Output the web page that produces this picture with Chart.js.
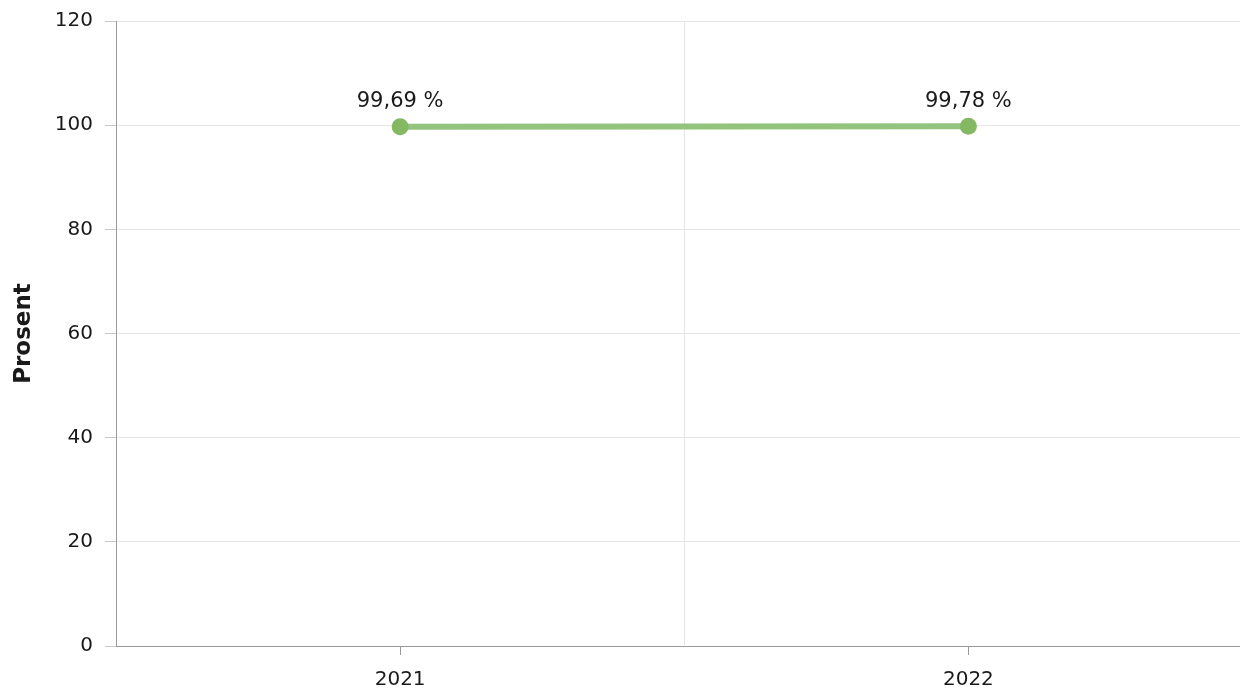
<!DOCTYPE html>
<html>
<head>
<meta charset="utf-8">
<script src="https://cdn.jsdelivr.net/npm/chart.js@4/dist/chart.umd.min.js"></script>
<style>
  html, body { margin: 0; padding: 0; background: #fff; }
  #wrap { width: 1240px; height: 693px; overflow: hidden; position: relative; }
  canvas { display: block; position: absolute; left: 0; top: -3px; }
</style>
</head>
<body>
<div id="wrap"><canvas id="chart" width="1261" height="696" style="width:1261px;height:696px"></canvas></div>
<script>
const years = ['2021', '2022'];
const shares = [99.69, 99.78];
const yTicks = [0, 20, 40, 60, 80, 100, 120];

const FONT = 'DejaVu Sans';
const TEXT = '#1a1a1a';
const AXIS = '#999';
const GRID = '#e6e6e6';

const fmt = v => v.toFixed(2).replace('.', ',') + ' %';

// tick marks under the category labels (not at the grid lines)
const xTickMarks = {
    id: 'xTickMarks',
    afterDraw(chart) {
        const x = chart.scales.x;
        const ctx = chart.ctx;
        ctx.save();
        ctx.strokeStyle = AXIS;
        ctx.lineWidth = 1;
        x.ticks.forEach((t, i) => {
            const px = Math.round(x.getPixelForTick(i)) + 0.5;
            ctx.beginPath();
            ctx.moveTo(px, x.top);
            ctx.lineTo(px, x.top + 9);
            ctx.stroke();
        });
        ctx.restore();
    }
};

// value labels above points
const valueLabels = {
    id: 'valueLabels',
    afterDatasetsDraw(chart) {
        const ctx = chart.ctx;
        const meta = chart.getDatasetMeta(0);
        ctx.save();
        ctx.font = `21px "${FONT}"`;
        ctx.fillStyle = TEXT;
        ctx.textAlign = 'center';
        ctx.textBaseline = 'middle';
        meta.data.forEach((pt, i) => {
            ctx.fillText(fmt(shares[i]), pt.x, pt.y - 25);
        });
        ctx.restore();
    }
};

new Chart(document.getElementById('chart').getContext('2d'), {
    type: 'line',
    data: {
        labels: years,
        datasets: [{
            data: shares,
            borderColor: '#93c47d',
            borderWidth: 6,
            backgroundColor: '#84b862',
            pointBackgroundColor: '#84b862',
            pointBorderWidth: 0,
            pointRadius: 8.5,
            tension: 0
        }]
    },
    options: {
        responsive: false,
        animation: false,
        layout: { padding: { top: 18, right: 0, bottom: 0, left: 0 } },
        plugins: {
            legend: { display: false },
            tooltip: { enabled: false }
        },
        scales: {
            x: {
                type: 'category',
                offset: true,
                grid: { color: GRID, drawTicks: false, offset: true },
                border: { color: AXIS, width: 1 },
                ticks: {
                    color: TEXT,
                    padding: 22,
                    font: { family: FONT, size: 20 }
                },
                afterFit(scale) { scale.height = 47; }
            },
            y: {
                min: 0,
                max: 120,
                afterBuildTicks(scale) { scale.ticks = yTicks.map(v => ({ value: v })); },
                grid: { color: GRID, tickColor: '#c8c8c8', tickLength: 11 },
                border: { color: AXIS, width: 1 },
                ticks: {
                    color: TEXT,
                    padding: 12,
                    font: { family: FONT, size: 20 }
                },
                title: {
                    display: true,
                    text: 'Prosent',
                    color: TEXT,
                    font: { family: FONT, size: 23, weight: 'bold' },
                    padding: { top: 10, bottom: 0 }
                },
                afterFit(scale) { scale.width = 116; }
            }
        }
    },
    plugins: [xTickMarks, valueLabels]
});
</script>
</body>
</html>
